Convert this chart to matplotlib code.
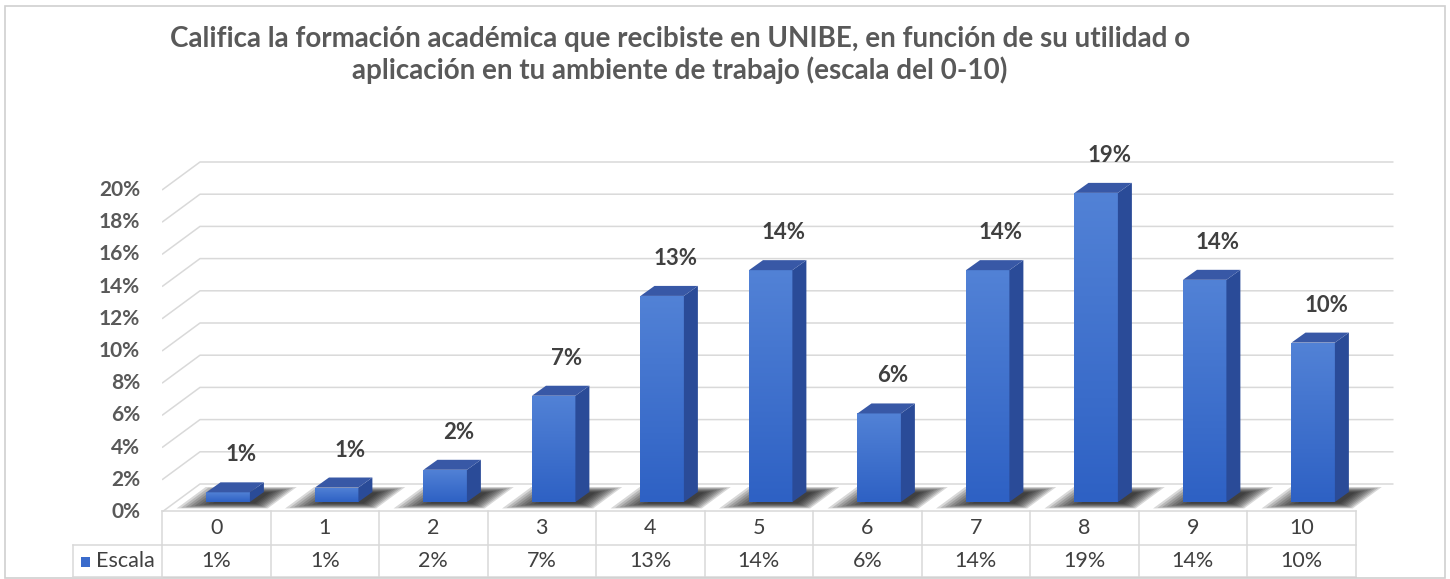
import numpy as np
import matplotlib
matplotlib.use("Agg")
import matplotlib.pyplot as plt
from matplotlib.patches import Polygon, Rectangle
from matplotlib.transforms import blended_transform_factory

# ---------------- data ----------------
categories = ["0", "1", "2", "3", "4", "5", "6", "7", "8", "9", "10"]
values = [0.6, 0.9, 2.0, 6.6, 12.8, 14.4, 5.5, 14.4, 19.2, 13.8, 9.9]
series_name = "Escala"
y_ticks = [0, 2, 4, 6, 8, 10, 12, 14, 16, 18, 20]
title_text = ("Califica la formación académica que recibiste en UNIBE, en función de su utilidad o\n"
              "aplicación en tu ambiente de trabajo (escala del 0-10)")

# ---------------- style ----------------
W, H = 1450, 579
FONT = "Lato"
TXT = "#595959"
TXT2 = "#404040"
GRID = "#d9d9d9"
FRONT_TOP = np.array([0x52, 0x82, 0xd6]) / 255
FRONT_BOT = np.array([0x2e, 0x61, 0xc4]) / 255
SIDE = "#2a4b98"
TOPC = "#3858a6"

PX_X = 108.5   # px per category
PX_Y = 16.1    # px per percent
DX = 38 / PX_X   # depth offset of back wall (x)
DY = 28 / PX_Y   # depth offset of back wall (y)
BAR_DX = 14 / PX_X
BAR_DY = 10 / PX_Y
BASE = 10 / PX_Y
BAR_L = -0.09
BAR_W = 0.40

fig = plt.figure(figsize=(W / 100, H / 100), dpi=100)
fig.patch.set_facecolor("white")

def fx(px):
    return px / W

def fy(py):
    return 1 - py / H

# outer border
fig.patches.append(Rectangle((fx(5), fy(578)), fx(1440), (573 - 1) / H, transform=fig.transFigure,
                             fill=False, edgecolor="#d0d0d0", linewidth=1.2))

ax_left, ax_right, ax_bottom_px = 162, 1400, 512
ax = fig.add_axes([fx(ax_left), fy(ax_bottom_px), fx(ax_right - ax_left), 354 / H])
ax.axis("off")

n = len(categories)
x_right_back = n - 0.5 + DX

# back wall gridlines with diagonal on the side wall
for t in y_ticks:
    ax.plot([-0.5, -0.5 + DX, x_right_back], [t, t + DY, t + DY], color=GRID, lw=1.1,
            solid_capstyle="butt", zorder=1)
    ax.text(-0.5 - 22 / PX_X, t, f"{t}%", ha="right", va="center", fontsize=15,
            fontweight="bold", color=TXT, family=FONT, clip_on=False)

# floor shadows (layered to imitate blur)
def shear(y):
    return (y / DY) * DX

for i, v in enumerate(values):
    xl = i + BAR_L
    xr = xl + BAR_W
    for k in range(9):
        s = k * 0.028
        y0, y1 = 0.22 + s * 1.4, 1.55 - s * 1.5
        xa = xl - 0.32 + s * 1.2
        xb = xr + 0.12 - s * 0.8
        poly = [(xa + shear(y0), y0), (xb + shear(y0), y0), (xb + shear(y1), y1), (xa + shear(y1), y1)]
        ax.add_patch(Polygon(poly, closed=True, facecolor="#111111", edgecolor="none",
                             alpha=0.16, zorder=2))

# bars: front face from ax.bar, then side & top faces
grad = np.linspace(0, 1, 256)[:, None]
grad_img = FRONT_TOP[None, None, :] * (1 - grad[..., None]) + FRONT_BOT[None, None, :] * grad[..., None]
bars = ax.bar([i + BAR_L for i in range(n)], values, width=BAR_W, bottom=BASE, align="edge",
              color=FRONT_BOT, edgecolor="none", zorder=3)
for i, (b, v) in enumerate(zip(bars, values)):
    xl = b.get_x()
    xr = xl + b.get_width()
    yb = b.get_y()
    yt = yb + b.get_height()
    im = ax.imshow(grad_img, extent=(xl, xr, yb, yt), aspect="auto", zorder=3.1,
                   interpolation="bilinear")
    im.set_clip_path(b)
    side = [(xr, yb), (xr + BAR_DX, yb + BAR_DY), (xr + BAR_DX, yt + BAR_DY), (xr, yt)]
    ax.add_patch(Polygon(side, closed=True, facecolor=SIDE, edgecolor="none", zorder=3.2))
    top = [(xl, yt), (xr, yt), (xr + BAR_DX, yt + BAR_DY), (xl + BAR_DX, yt + BAR_DY)]
    ax.add_patch(Polygon(top, closed=True, facecolor=TOPC, edgecolor="none", zorder=3.2))
    lab = f"{int(np.floor(v + 0.5))}%"
    ax.text(i + 0.23, v + 2.95, lab, ha="center", va="center", fontsize=16, fontweight="bold",
            color=TXT2, family=FONT, zorder=5)

ax.set_xlim(-0.5, -0.5 + (ax_right - ax_left) / PX_X)
ax.set_ylim(0, 354 / PX_Y)

# ---------------- data table ----------------
tr = blended_transform_factory(ax.transData, fig.transFigure)
y_top, y_mid, y_bot = 511, 545, 577
for yy in (y_top, y_mid, y_bot):
    ax.plot([-0.5, n - 0.5], [fy(yy)] * 2, transform=tr, color=GRID, lw=1.1, clip_on=False)
for k in range(n + 1):
    ax.plot([k - 0.5] * 2, [fy(y_top), fy(y_bot)], transform=tr, color=GRID, lw=1.1, clip_on=False)
for i, (c, v) in enumerate(zip(categories, values)):
    ax.text(i, fy(528), c, transform=tr, ha="center", va="center", fontsize=15.5, color=TXT2,
            family=FONT, clip_on=False)
    ax.text(i, fy(561), f"{int(np.floor(v + 0.5))}%", transform=tr, ha="center", va="center",
            fontsize=15.5, color=TXT2, family=FONT, clip_on=False)

# legend cell
fig.add_artist(plt.Line2D([fx(73), fx(162)], [fy(y_mid)] * 2, color=GRID, lw=1.1))
fig.add_artist(plt.Line2D([fx(73), fx(162)], [fy(y_bot)] * 2, color=GRID, lw=1.1))
fig.add_artist(plt.Line2D([fx(73), fx(73)], [fy(y_mid), fy(y_bot)], color=GRID, lw=1.1))
fig.patches.append(Rectangle((fx(81), fy(567)), fx(9), 10 / H, transform=fig.transFigure,
                             facecolor="#3a6bcc", edgecolor="none"))
fig.text(fx(96), fy(561), series_name, ha="left", va="center", fontsize=15.5, color=TXT2, family=FONT)

# ---------------- title ----------------
fig.text(fx(680), fy(55), title_text, ha="center", va="center", fontsize=20, fontweight="bold",
         color=TXT, family=FONT, linespacing=1.2)

fig.savefig("out.png", dpi=100, facecolor="white")
